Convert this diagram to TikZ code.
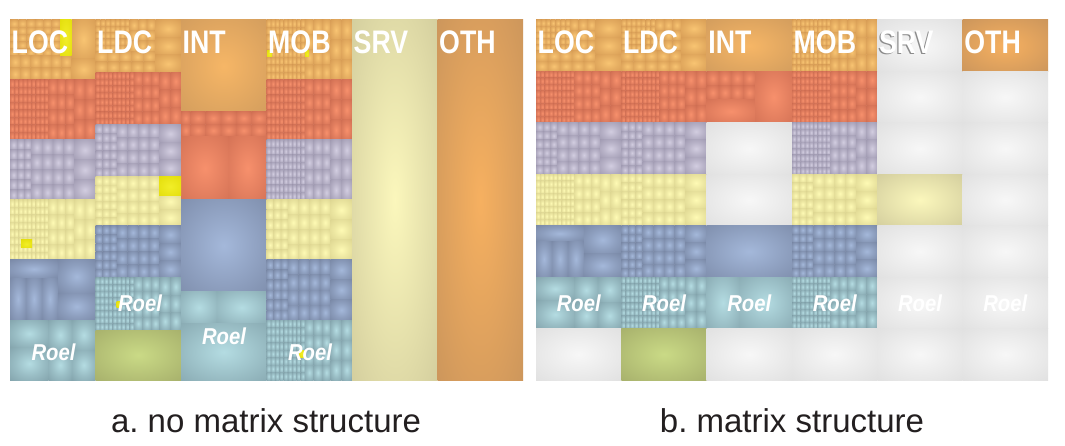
\documentclass[tikz,border=0pt]{standalone}
\usepackage{fontspec}
\setmainfont{Liberation Sans}
\newfontfamily\labfont[FakeStretch=0.82]{Liberation Sans}
\newfontfamily\roelfont[FakeStretch=0.88]{Liberation Sans}
\frenchspacing
% colours (light centre / dark edge)
\definecolor{oL}{RGB}{248,196,114}\definecolor{oD}{RGB}{210,150,80}
\definecolor{rL}{RGB}{247,144,108}\definecolor{rD}{RGB}{200,104,78}
\definecolor{pL}{RGB}{210,205,224}\definecolor{pD}{RGB}{152,146,170}
\definecolor{yL}{RGB}{254,250,180}\definecolor{yD}{RGB}{216,208,140}
\definecolor{bL}{RGB}{164,184,218}\definecolor{bD}{RGB}{114,128,157}
\definecolor{tL}{RGB}{180,220,226}\definecolor{tD}{RGB}{122,153,162}
\definecolor{gL}{RGB}{202,218,134}\definecolor{gD}{RGB}{154,161,98}
\definecolor{sL}{RGB}{251,247,188}\definecolor{sD}{RGB}{196,190,146}
\definecolor{otL}{RGB}{246,176,96}\definecolor{otD}{RGB}{188,140,90}
\definecolor{ioL}{RGB}{246,182,102}\definecolor{ioD}{RGB}{198,148,90}
\definecolor{wL}{RGB}{247,247,247}\definecolor{wD}{RGB}{216,216,216}
\definecolor{hL}{RGB}{242,238,40}\definecolor{hD}{RGB}{222,216,0}
\definecolor{capgray}{RGB}{35,31,32}
\definecolor{shadowgray}{RGB}{140,140,140}
% small cushions
\pgfdeclareradialshading{shO}{\pgfpoint{0bp}{0bp}}{color(0bp)=(oL);color(18bp)=(oL!55!oD);color(44bp)=(oD);color(50bp)=(oD!85!black)}
\pgfdeclareradialshading{shR}{\pgfpoint{0bp}{0bp}}{color(0bp)=(rL);color(18bp)=(rL!55!rD);color(44bp)=(rD);color(50bp)=(rD!85!black)}
\pgfdeclareradialshading{shP}{\pgfpoint{0bp}{0bp}}{color(0bp)=(pL);color(18bp)=(pL!55!pD);color(44bp)=(pD);color(50bp)=(pD!85!black)}
\pgfdeclareradialshading{shY}{\pgfpoint{0bp}{0bp}}{color(0bp)=(yL);color(18bp)=(yL!55!yD);color(44bp)=(yD);color(50bp)=(yD!85!black)}
\pgfdeclareradialshading{shB}{\pgfpoint{0bp}{0bp}}{color(0bp)=(bL);color(18bp)=(bL!55!bD);color(44bp)=(bD);color(50bp)=(bD!85!black)}
\pgfdeclareradialshading{shT}{\pgfpoint{0bp}{0bp}}{color(0bp)=(tL);color(18bp)=(tL!55!tD);color(44bp)=(tD);color(50bp)=(tD!85!black)}
\pgfdeclareradialshading{shH}{\pgfpoint{0bp}{0bp}}{color(0bp)=(hL);color(50bp)=(hD)}
% big cushions
\pgfdeclareradialshading{shG}{\pgfpoint{0bp}{0bp}}{color(0bp)=(gL);color(50bp)=(gD)}
\pgfdeclareradialshading{shS}{\pgfpoint{0bp}{0bp}}{color(0bp)=(sL);color(50bp)=(sD)}
\pgfdeclareradialshading{shOT}{\pgfpoint{0bp}{0bp}}{color(0bp)=(otL);color(50bp)=(otD)}
\pgfdeclareradialshading{shIO}{\pgfpoint{0bp}{0bp}}{color(0bp)=(ioL);color(50bp)=(ioD)}
\pgfdeclareradialshading{shIR}{\pgfpoint{0bp}{0bp}}{color(0bp)=(rL);color(50bp)=(rD)}
\pgfdeclareradialshading{shIB}{\pgfpoint{0bp}{0bp}}{color(0bp)=(bL);color(50bp)=(bD)}
\pgfdeclareradialshading{shIT}{\pgfpoint{0bp}{0bp}}{color(0bp)=(tL);color(50bp)=(tD)}
\pgfdeclareradialshading{shW}{\pgfpoint{0bp}{0bp}}{color(0bp)=(wL);color(50bp)=(wD)}
% grid of cushions in unit cell coordinates
\newcommand\cg[7]{%
  \foreach \ii in {1,...,#5}{%
    \foreach \jj in {1,...,#6}{%
      \shade[shading=#7] ({#1+(#3-#1)*(\ii-1)/#5},{#2+(#4-#2)*(\jj-1)/#6}) rectangle ({#1+(#3-#1)*\ii/#5},{#2+(#4-#2)*\jj/#6});
    }}}
\newcommand\cellat[5]{\begin{scope}[shift={(#1,#2)},xscale=#3,yscale=#4]#5\end{scope}}
\newcommand\one[1]{\shade[shading=#1] (0,0) rectangle (1,1);}
\newcommand\patA[1]{\cg{0}{0}{0.4}{0.6}{7}{5}{#1}\cg{0.4}{0}{0.7}{0.6}{3}{3}{#1}\cg{0}{0.6}{0.7}{1}{5}{2}{#1}\cg{0.7}{0}{1}{1}{1}{3}{#1}}
\newcommand\patB[1]{\cg{0}{0}{0.25}{1}{3}{6}{#1}\cg{0.25}{0}{0.75}{1}{4}{4}{#1}\cg{0.75}{0}{1}{1}{1}{3}{#1}}
\newcommand\patC[1]{\cg{0}{0}{0.45}{1}{9}{8}{#1}\cg{0.45}{0}{0.75}{1}{3}{4}{#1}\cg{0.75}{0}{1}{1}{2}{3}{#1}}
\newcommand\patD[1]{\cg{0}{0}{0.56}{0.3}{1}{1}{#1}\cg{0.56}{0}{1}{0.55}{1}{1}{#1}\cg{0}{0.3}{0.56}{1}{3}{1}{#1}\cg{0.56}{0.55}{1}{1}{1}{1}{#1}}
\newcommand\patE[1]{\cg{0}{0}{0.45}{0.45}{1}{1}{#1}\cg{0.45}{0}{1}{0.5}{2}{1}{#1}\cg{0}{0.45}{0.45}{1}{1}{1}{#1}\cg{0.45}{0.5}{1}{1}{2}{1}{#1}}
\tikzset{
  lab/.style={text=white,font=\labfont\bfseries\fontsize{32.6}{36}\selectfont,anchor=base west,inner sep=0pt},
  roel/.style={text=white,font=\roelfont\bfseries\itshape\fontsize{23}{26}\selectfont,anchor=base,inner sep=0pt},
  captext/.style={text=capgray,font=\fontsize{33}{38}\selectfont,anchor=base,inner sep=0pt}
}
\begin{document}
\begin{tikzpicture}[x=1pt,y=-1pt]
\fill[white] (0,0) rectangle (1065,446);
\useasboundingbox (0,0) rectangle (1065,446);
% ================= LEFT PANEL =================
% LOC
\cellat{10}{20}{85.5}{60}{\cg{0}{0}{0.585}{0.6}{6}{5}{shO}\cg{0}{0.6}{0.72}{1}{6}{2}{shO}\cg{0.72}{0}{1}{0.65}{1}{1}{shO}\cg{0.72}{0.65}{1}{1}{1}{1}{shO}\shade[shading=shH] (0.585,0) rectangle (0.72,0.6);}
\cellat{10}{80}{85.5}{60}{\patC{shR}}
\cellat{10}{140}{85.5}{60}{\patB{shP}}
\cellat{10}{200}{85.5}{60}{\patC{shY}}
\cellat{10}{260}{85.5}{60}{\patD{shB}}
\cellat{10}{320}{85.5}{60}{\patE{shT}}
% LDC
\cellat{95.5}{20}{85.5}{52.5}{\patA{shO}}
\cellat{95.5}{72.5}{85.5}{52.5}{\patC{shR}}
\cellat{95.5}{125}{85.5}{52}{\patB{shP}}
\cellat{95.5}{177}{85.5}{49}{\patB{shY}}
\cellat{95.5}{226}{85.5}{52}{\patB{shB}}
\cellat{95.5}{278}{85.5}{52}{\patC{shT}}
\cellat{95.5}{330}{85.5}{50}{\one{shG}}
% INT
\cellat{181}{20}{85.5}{92}{\one{shIO}}
\cellat{181}{112}{85.5}{88}{\cg{0}{0}{0.11}{0.28}{1}{2}{shR}\cg{0.11}{0}{1}{0.28}{5}{2}{shR}\cg{0}{0.28}{0.56}{1}{1}{1}{shIR}\cg{0.56}{0.28}{1}{1}{1}{1}{shIR}}
\cellat{181}{200}{85.5}{91}{\one{shIB}}
\cellat{181}{291}{85.5}{89}{\cg{0}{0}{0.42}{0.37}{1}{1}{shIT}\cg{0.42}{0}{1}{0.37}{1}{1}{shIT}\cg{0}{0.37}{1}{1}{1}{1}{shIT}}
% MOB
\cellat{266.5}{20}{85.5}{60}{\patC{shO}}
\cellat{266.5}{80}{85.5}{60}{\patC{shR}}
\cellat{266.5}{140}{85.5}{60}{\patC{shP}}
\cellat{266.5}{200}{85.5}{60}{\patB{shY}}
\cellat{266.5}{260}{85.5}{60}{\patB{shB}}
\cellat{266.5}{320}{85.5}{60}{\patC{shT}}
% SRV, OTH
\cellat{352}{20}{85.5}{360}{\one{shS}}
\cellat{437.5}{20}{85.5}{360}{\one{shOT}}
% yellow highlights
\shade[shading=shH] (21,240) rectangle (32,248);
\shade[shading=shH] (159,177) rectangle (181,196);
\shade[shading=shH] (267,51) rectangle (272,57);
\shade[shading=shH] (305,51) rectangle (309,57);
\shade[shading=shH] (116.5,301.5) rectangle (121.5,307);
\shade[shading=shH] (299,350) rectangle (304,357);
% labels
\node[lab] (aloc) at (11.5,53.3) {LOC};
\node[lab] (aldc) at (97,53.3) {LDC};
\node[lab] (aint) at (182.5,53.3) {INT};
\node[lab] (amob) at (268,53.3) {MOB};
\node[lab] (asrv) at (353.5,53.3) {SRV};
\node[lab] (aoth) at (439,53.3) {OTH};
\node[roel] (ar1) at (53.5,360) {Roel};
\node[roel] (ar2) at (140,311.7) {Roel};
\node[roel] (ar3) at (224,344.3) {Roel};
\node[roel] (ar4) at (310,360) {Roel};
% ================= RIGHT PANEL =================
\def\RW{85.333}\def\RH{51.429}
% LOC col
\cellat{536}{20}{\RW}{\RH}{\patA{shO}}
\cellat{536}{71.429}{\RW}{\RH}{\patC{shR}}
\cellat{536}{122.857}{\RW}{\RH}{\patB{shP}}
\cellat{536}{174.286}{\RW}{\RH}{\patC{shY}}
\cellat{536}{225.714}{\RW}{\RH}{\patD{shB}}
\cellat{536}{277.143}{\RW}{\RH}{\patE{shT}}
\cellat{536}{328.571}{\RW}{\RH}{\one{shW}}
% LDC col
\cellat{621.333}{20}{\RW}{\RH}{\patA{shO}}
\cellat{621.333}{71.429}{\RW}{\RH}{\patC{shR}}
\cellat{621.333}{122.857}{\RW}{\RH}{\patB{shP}}
\cellat{621.333}{174.286}{\RW}{\RH}{\patB{shY}}
\cellat{621.333}{225.714}{\RW}{\RH}{\patB{shB}}
\cellat{621.333}{277.143}{\RW}{\RH}{\patC{shT}}
\cellat{621.333}{328.571}{\RW}{\RH}{\one{shG}}
% INT col
\cellat{706.667}{20}{\RW}{\RH}{\one{shIO}}
\cellat{706.667}{71.429}{\RW}{\RH}{\cg{0}{0}{0.57}{0.55}{4}{2}{shR}\cg{0}{0.55}{0.57}{1}{1}{1}{shIR}\cg{0.57}{0}{1}{1}{1}{1}{shIR}}
\cellat{706.667}{122.857}{\RW}{\RH}{\one{shW}}
\cellat{706.667}{174.286}{\RW}{\RH}{\one{shW}}
\cellat{706.667}{225.714}{\RW}{\RH}{\one{shIB}}
\cellat{706.667}{277.143}{\RW}{\RH}{\cg{0}{0}{0.38}{1}{1}{1}{shIT}\cg{0.38}{0}{1}{1}{1}{1}{shIT}}
\cellat{706.667}{328.571}{\RW}{\RH}{\one{shW}}
% MOB col
\cellat{792}{20}{\RW}{\RH}{\patC{shO}}
\cellat{792}{71.429}{\RW}{\RH}{\patC{shR}}
\cellat{792}{122.857}{\RW}{\RH}{\patC{shP}}
\cellat{792}{174.286}{\RW}{\RH}{\patB{shY}}
\cellat{792}{225.714}{\RW}{\RH}{\patB{shB}}
\cellat{792}{277.143}{\RW}{\RH}{\patC{shT}}
\cellat{792}{328.571}{\RW}{\RH}{\one{shW}}
% SRV col
\cellat{877.333}{20}{\RW}{\RH}{\one{shW}}
\cellat{877.333}{71.429}{\RW}{\RH}{\one{shW}}
\cellat{877.333}{122.857}{\RW}{\RH}{\one{shW}}
\cellat{877.333}{174.286}{\RW}{\RH}{\one{shS}}
\cellat{877.333}{225.714}{\RW}{\RH}{\one{shW}}
\cellat{877.333}{277.143}{\RW}{\RH}{\one{shW}}
\cellat{877.333}{328.571}{\RW}{\RH}{\one{shW}}
% OTH col
\cellat{962.667}{20}{\RW}{\RH}{\one{shOT}}
\cellat{962.667}{71.429}{\RW}{\RH}{\one{shW}}
\cellat{962.667}{122.857}{\RW}{\RH}{\one{shW}}
\cellat{962.667}{174.286}{\RW}{\RH}{\one{shW}}
\cellat{962.667}{225.714}{\RW}{\RH}{\one{shW}}
\cellat{962.667}{277.143}{\RW}{\RH}{\one{shW}}
\cellat{962.667}{328.571}{\RW}{\RH}{\one{shW}}
% labels
\node[lab] (bloc) at (537.5,53.3) {LOC};
\node[lab] (bldc) at (622.8,53.3) {LDC};
\node[lab] (bint) at (708.2,53.3) {INT};
\node[lab] (bmob) at (793.5,53.3) {MOB};
\node[lab,text=shadowgray] (bsrvs) at (877.6,54.3) {SRV};
\node[lab] (bsrv) at (878.8,53.3) {SRV};
\node[lab] (both) at (964.2,53.3) {OTH};
\node[roel] (br1) at (578.7,311.7) {Roel};
\node[roel] (br2) at (664,311.7) {Roel};
\node[roel] (br3) at (749.3,311.7) {Roel};
\node[roel] (br4) at (834.7,311.7) {Roel};
\node[roel] (br5) at (920,311.7) {Roel};
\node[roel] (br6) at (1005.3,311.7) {Roel};
% captions
\node[captext] (capa) at (266,432.5) {a. no matrix structure};
\node[captext] (capb) at (792,432.5) {b. matrix structure};
\end{tikzpicture}
\end{document}
